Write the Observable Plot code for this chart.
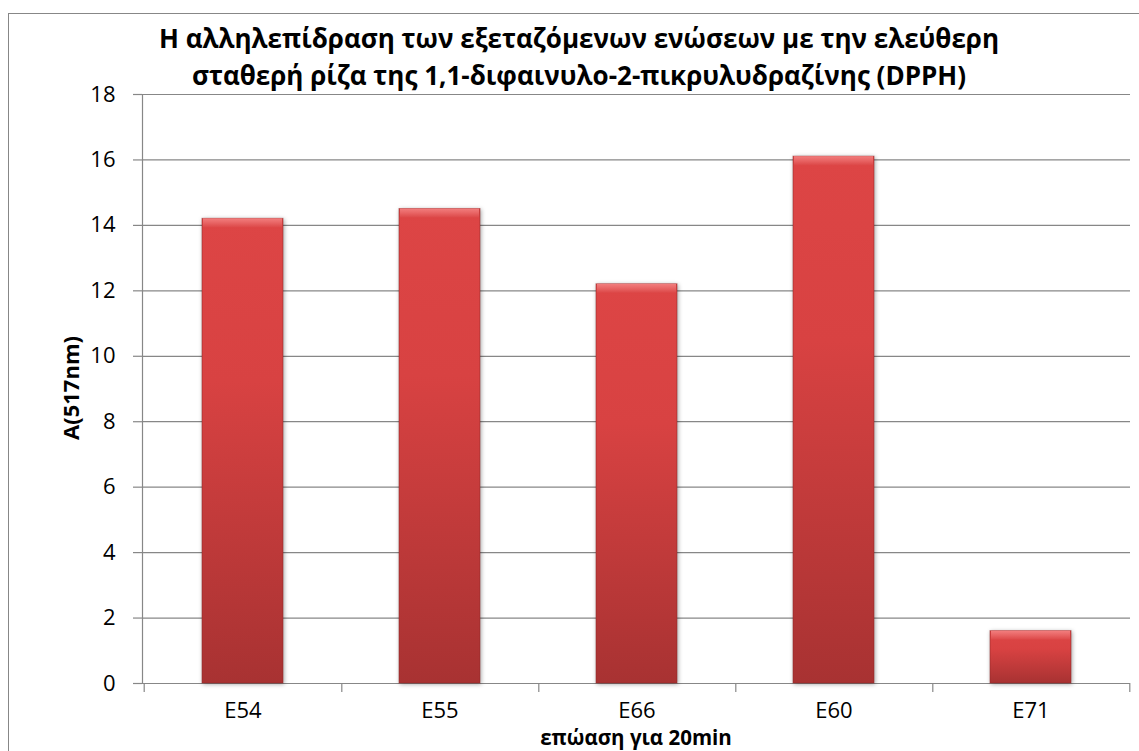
<!DOCTYPE html>
<html>
<head>
<meta charset="utf-8">
<script src="https://cdn.jsdelivr.net/npm/d3@7"></script>
<script src="https://cdn.jsdelivr.net/npm/@observablehq/plot@0.6"></script>
<style>
  html, body { margin: 0; padding: 0; background: #fff; }
  #wrap { position: relative; width: 1139px; height: 751px; overflow: hidden; font-family: "Open Sans", sans-serif; }
  #border { position: absolute; left: 8px; top: 13px; width: 1300px; height: 900px; border: 1px solid #878787; box-sizing: border-box; }
  #title { position: absolute; left: 0; top: 20px; width: 1158px; text-align: center; font-weight: bold; font-size: 26px; line-height: 37px; color: #000; }
  #ylabel { position: absolute; left: 70px; top: 388px; transform: translate(-50%, -50%) rotate(-90deg); font-weight: bold; font-size: 22px; white-space: nowrap; color: #000; }
  #xlabel { position: absolute; left: 636px; top: 737px; transform: translate(-50%, -50%); font-weight: bold; font-size: 20.5px; line-height: 20px; white-space: nowrap; color: #000; }
  #chart { position: absolute; left: 0; top: 0; }
</style>
</head>
<body>
<div id="wrap">
  <div id="border"></div>
  <div id="chart"></div>
  <div id="title"></div>
  <div id="ylabel"></div>
  <div id="xlabel"></div>
</div>
<script>
const titleLines = ["Η αλληλεπίδραση των εξεταζόμενων ενώσεων με την ελεύθερη", "σταθερή ρίζα της 1,1-διφαινυλο-2-πικρυλυδραζίνης (DPPH)"];
const yLabel = "A(517nm)";
const xLabel = "επώαση για 20min";
const categories = ["E54", "E55", "E66", "E60", "E71"];
const values = [14.2, 14.5, 12.2, 16.1, 1.6];
const yTicks = [0, 2, 4, 6, 8, 10, 12, 14, 16, 18];

document.getElementById("title").innerHTML = titleLines.join("<br>");
document.getElementById("ylabel").textContent = yLabel;
document.getElementById("xlabel").textContent = xLabel;

const data = categories.map((c, i) => ({name: c, value: values[i]}));

const W = 1139, H = 751, mL = 142, mR = 9, mT = 94, mB = 68;
const step = (W - mL - mR) / categories.length;
const grey = "#878787";

const chart = Plot.plot({
  width: W, height: H,
  marginLeft: mL, marginRight: mR, marginTop: mT, marginBottom: mB,
  style: {fontFamily: "'Open Sans', sans-serif", color: "#000", background: "transparent", overflow: "visible"},
  x: {type: "band", domain: categories, paddingInner: 0.59, paddingOuter: 0.295, label: null},
  y: {domain: [0, 18], label: null},
  marks: [
    Plot.gridY(yTicks, {stroke: grey, strokeOpacity: 1, strokeWidth: 1.2}),
    Plot.frame({anchor: "left", stroke: grey, strokeWidth: 1.2}),
    Plot.axisY(yTicks, {tickSize: 9, tickPadding: 18, fontSize: 22, stroke: grey, strokeWidth: 1.2, label: null, fill: "#000"}),
    Plot.axisX({tickSize: 9, text: null, dx: step / 2, stroke: grey, strokeWidth: 1.2, label: null}),
    Plot.axisX([categories[0]], {tickSize: 9, text: null, dx: -step / 2, stroke: grey, strokeWidth: 1.2, label: null}),
    Plot.axisX({tickSize: 0, tickPadding: 19, fontSize: 22, label: null, fill: "#000"}),
    Plot.barY(data, {x: "name", y: "value", fill: "url(#barGrad)", stroke: "#8e2a2a", strokeOpacity: 0.55, strokeWidth: 1}),
    Plot.barY(data, {x: "name", y1: "value", y2: "value", insetBottom: -9, insetLeft: 1, insetRight: 1, fill: "url(#bevelGrad)"})
  ]
});

// gradients for the bars
const ns = "http://www.w3.org/2000/svg";
const defs = document.createElementNS(ns, "defs");
function grad(id, stops) {
  const g = document.createElementNS(ns, "linearGradient");
  g.setAttribute("id", id);
  g.setAttribute("x1", "0"); g.setAttribute("y1", "0");
  g.setAttribute("x2", "0"); g.setAttribute("y2", "1");
  for (const [o, c] of stops) {
    const s = document.createElementNS(ns, "stop");
    s.setAttribute("offset", o);
    s.setAttribute("stop-color", c);
    g.appendChild(s);
  }
  defs.appendChild(g);
}
grad("barGrad", [[0, "#dd4545"], [0.35, "#d84242"], [1, "#a83232"]]);
grad("bevelGrad", [[0, "#f27e7e"], [0.5, "#e86464"], [1, "#dc4848"]]);
chart.insertBefore(defs, chart.firstChild);

chart.querySelectorAll('g[aria-label="bar"]').forEach((g, i) => {
  if (i === 0) g.setAttribute("style", "filter: drop-shadow(1px 1px 2px rgba(0,0,0,0.35))");
});

document.getElementById("chart").appendChild(chart);
</script>
</body>
</html>
